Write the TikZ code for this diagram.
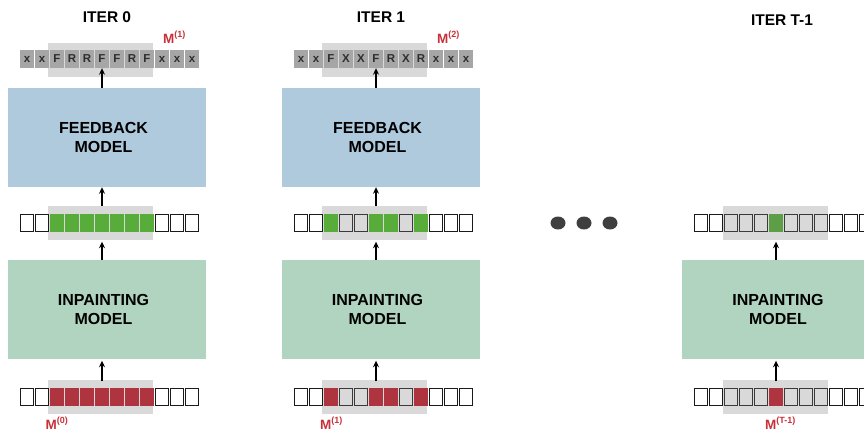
\documentclass[tikz,border=0pt]{standalone}
\usepackage{fontspec}
\setmainfont{Liberation Sans}
\usetikzlibrary{arrows.meta}
\definecolor{fbblue}{HTML}{AFCADC}
\definecolor{ipgreen}{HTML}{B0D4BF}
\definecolor{hlgray}{HTML}{D9D9D9}
\definecolor{tokgray}{HTML}{A6A6A6}
\definecolor{toktext}{HTML}{2E2E2E}
\definecolor{mred}{HTML}{C8303A}
\definecolor{dotgray}{HTML}{3F3F3F}
% cell fill colours
\definecolor{cw}{HTML}{FFFFFF}
\definecolor{ce}{HTML}{D9D9D9}
\definecolor{cg}{HTML}{58AC3A}
\definecolor{cG}{HTML}{5E9E46}
\definecolor{cr}{HTML}{AE3440}
% cell border colours
\definecolor{bw}{HTML}{1A1A1A}
\definecolor{be}{HTML}{3A3A3A}
\colorlet{bg}{cg}
\colorlet{bG}{cG}
\colorlet{br}{cr}
\newcommand\sqrow[4]{%
  \foreach \c [count=\i] in {#4} {
    \node[cell, fill=c\c, draw=b\c] (#1-\i) at ({#2+26.5+(\i-1)*15},#3) {};
  }}
\newcommand\tokrow[3]{%
  \foreach \t [count=\i] in {#3} {
    \node[tok] (#1-\i) at ({#2+27+(\i-1)*15},59) {\t};
  }}
\newcommand\msup[2]{M\raisebox{5.5pt}{\fontsize{9}{9}\selectfont #2}}
\begin{document}
\begin{tikzpicture}[x=1pt,y=-1pt,
  box/.style={minimum width=198pt, minimum height=99pt, inner sep=0pt},
  boxtxt/.style={align=center, inner sep=0pt, font=\bfseries\fontsize{16}{19.5}\selectfont},
  fbbox/.style={box, fill=fbblue},
  ipbox/.style={box, fill=ipgreen},
  hl/.style={fill=hlgray, minimum width=105pt, minimum height=34pt, inner sep=0pt},
  tok/.style={fill=tokgray, minimum width=14pt, minimum height=18pt, inner sep=0pt,
    font=\bfseries\fontsize{11.5}{12}\selectfont, text=toktext},
  cell/.style={line width=0.8pt, minimum width=13pt, minimum height=17pt, inner sep=0pt},
  arr/.style={-{Stealth[length=6.5pt,width=6pt]}, line width=1.5pt, black},
  iter/.style={font=\bfseries\fontsize{15.5}{18}\selectfont},
  mlab/.style={font=\bfseries\fontsize{13.5}{14}\selectfont, text=mred, anchor=base west, inner sep=0pt}
]
\useasboundingbox (0,0) rectangle (864,432);
\clip (0,0) rectangle (864,432);

% ---------------- ITER 0 ----------------
\node[iter] (it0) at (107,17.5) {ITER 0};
\node[hl] (ht0) at (100.5,60) {};
\tokrow{t0}{0}{x,x,F,R,R,F,F,R,F,x,x,x}
\node[mlab] (mt0) at (163,43) {\msup{M}{(1)}};
\node[fbbox] (fb0) at (106.5,137.5) {};
\node[boxtxt] (fbt0) at (103.5,137.5) {FEEDBACK\\MODEL};
\node[hl] (hm0) at (100.5,223) {};
\sqrow{m0}{0}{223}{w,w,g,g,g,g,g,g,g,w,w,w}
\node[ipbox] (ip0) at (106.5,309.5) {};
\node[boxtxt] (ipt0) at (103.5,309.5) {INPAINTING\\MODEL};
\node[hl] (hb0) at (100.5,397) {};
\sqrow{b0}{0}{397}{w,w,r,r,r,r,r,r,r,w,w,w}
\node[mlab] (mb0) at (45.5,429) {\msup{M}{(0)}};
\draw[arr] (fb0.north -| t0-6.south) -- (t0-6.south);
\draw[arr] (hm0.north -| t0-6.south) -- (fb0.south -| t0-6.south);
\draw[arr] (ip0.north -| t0-6.south) -- ([yshift=-1.5pt]hm0.south -| t0-6.south);
\draw[arr] ([yshift=-1.5pt]hb0.north -| t0-6.south) -- ([yshift=-1.5pt]ip0.south -| t0-6.south);

% ---------------- ITER 1 ----------------
\node[iter] (it1) at (381,17.5) {ITER 1};
\node[hl] (ht1) at (374.5,60) {};
\tokrow{t1}{274}{x,x,F,X,X,F,R,X,R,x,x,x}
\node[mlab] (mt1) at (437,43) {\msup{M}{(2)}};
\node[fbbox] (fb1) at (380.5,137.5) {};
\node[boxtxt] (fbt1) at (377.5,137.5) {FEEDBACK\\MODEL};
\node[hl] (hm1) at (374.5,223) {};
\sqrow{m1}{274}{223}{w,w,g,e,e,g,g,e,g,w,w,w}
\node[ipbox] (ip1) at (380.5,309.5) {};
\node[boxtxt] (ipt1) at (377.5,309.5) {INPAINTING\\MODEL};
\node[hl] (hb1) at (374.5,397) {};
\sqrow{b1}{274}{397}{w,w,r,e,e,r,r,e,r,w,w,w}
\node[mlab] (mb1) at (320,429) {\msup{M}{(1)}};
\draw[arr] (fb1.north -| t1-6.south) -- (t1-6.south);
\draw[arr] (hm1.north -| t1-6.south) -- (fb1.south -| t1-6.south);
\draw[arr] (ip1.north -| t1-6.south) -- ([yshift=-1.5pt]hm1.south -| t1-6.south);
\draw[arr] ([yshift=-1.5pt]hb1.north -| t1-6.south) -- ([yshift=-1.5pt]ip1.south -| t1-6.south);

% ---------------- dots ----------------
\fill[dotgray] (558,223) ellipse [x radius=7.5, y radius=6.5];
\fill[dotgray] (584,223) ellipse [x radius=7.5, y radius=6.5];
\fill[dotgray] (610,223) ellipse [x radius=7.5, y radius=6.5];

% ---------------- ITER T-1 ----------------
\node[iter] (it2) at (782,20) {ITER T-1};
\node[hl] (hm2) at (775.5,223) {};
\sqrow{m2}{674}{223}{w,w,e,e,e,G,e,e,e,w,w,w}
\node[ipbox] (ip2) at (781,309.5) {};
\node[boxtxt] (ipt2) at (778,309.5) {INPAINTING\\MODEL};
\node[hl] (hb2) at (775.5,397) {};
\sqrow{b2}{674}{397}{w,w,e,e,e,r,e,e,e,w,w,w}
\node[mlab] (mb2) at (765,429) {\msup{M}{(T-1)}};
\coordinate (ax2) at ([xshift=0.5pt]m2-6.south);
\draw[arr] (ip2.north -| ax2) -- ([yshift=-1.5pt]hm2.south -| ax2);
\draw[arr] ([yshift=-1.5pt]hb2.north -| ax2) -- ([yshift=-1.5pt]ip2.south -| ax2);
\end{tikzpicture}
\end{document}
